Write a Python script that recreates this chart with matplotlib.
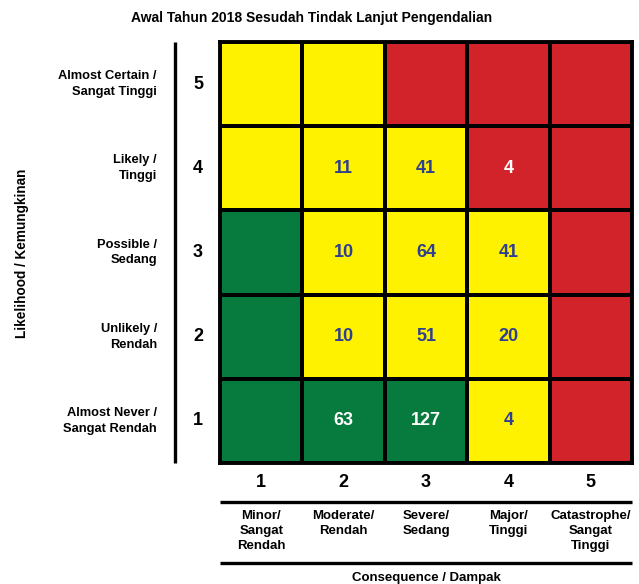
import numpy as np
import matplotlib
matplotlib.use("Agg")
import matplotlib.pyplot as plt
from matplotlib.colors import ListedColormap

plt.rcParams['font.family'] = ['Liberation Sans', 'DejaVu Sans']
plt.rcParams['font.weight'] = 'bold'

title = "Awal Tahun 2018 Sesudah Tindak Lanjut Pengendalian"
likelihood_levels = [1, 2, 3, 4, 5]
likelihood_labels = ["Almost Never /\nSangat Rendah", "Unlikely /\nRendah",
                     "Possible /\nSedang", "Likely /\nTinggi",
                     "Almost Certain /\nSangat Tinggi"]
consequence_levels = [1, 2, 3, 4, 5]
consequence_labels = ["Minor/\nSangat\nRendah", "Moderate/\nRendah",
                      "Severe/\nSedang", "Major/\nTinggi",
                      "Catastrophe/\nSangat\nTinggi"]
y_title = "Likelihood / Kemungkinan"
x_title = "Consequence / Dampak"

# risk zone per cell (0 = low/green, 1 = medium/yellow, 2 = high/red)
# rows: likelihood 1..5, columns: consequence 1..5
zones = np.array([
    [0, 0, 0, 1, 2],
    [0, 1, 1, 1, 2],
    [0, 1, 1, 1, 2],
    [1, 1, 1, 2, 2],
    [1, 1, 2, 2, 2],
])
# number of risks in each cell (0 = none)
counts = np.array([
    [0, 63, 127, 4, 0],
    [0, 10, 51, 20, 0],
    [0, 10, 64, 41, 0],
    [0, 11, 41, 4, 0],
    [0, 0, 0, 0, 0],
])

zone_colors = ["#077A3D", "#FFF200", "#D2232A"]
text_colors = {0: "white", 1: "#2E3F8F", 2: "white"}

fig = plt.figure(figsize=(6.39, 5.84), dpi=100)
ax = fig.add_axes([220 / 639, 121 / 584, 412 / 639, 421 / 584])

ax.pcolormesh(np.arange(6), np.arange(6), zones, cmap=ListedColormap(zone_colors),
              vmin=-0.5, vmax=2.5, edgecolors="black", linewidth=2.6)
ax.set_xlim(0, 5)
ax.set_ylim(0, 5)
ax.set_xticks([])
ax.set_yticks([])
for s in ax.spines.values():
    s.set_linewidth(2.8)
    s.set_color("black")

for i in range(5):
    for j in range(5):
        if counts[i, j]:
            ax.text(j + 0.5, i + 0.5, str(counts[i, j]), ha="center", va="center",
                    fontsize=13, fontweight="bold", color=text_colors[zones[i, j]])

# likelihood side
for i, (lvl, lab) in enumerate(zip(likelihood_levels, likelihood_labels)):
    ax.text(-0.267, i + 0.5, str(lvl), ha="center", va="center", fontsize=13,
            fontweight="bold", clip_on=False)
    ax.text(-0.765, i + 0.5, lab, ha="right", va="center", fontsize=9.3,
            fontweight="bold", linespacing=1.4, clip_on=False)
ax.plot([-0.546, -0.546], [0, 5], color="black", lw=2.4, clip_on=False,
        solid_capstyle="butt")
ax.text(-2.40, 2.49, y_title, rotation=90, ha="center", va="center",
        fontsize=9.8, fontweight="bold", clip_on=False)

# consequence side
for j, (lvl, lab) in enumerate(zip(consequence_levels, consequence_labels)):
    ax.text(j + 0.5, -0.2375, str(lvl), ha="center", va="center", fontsize=13,
            fontweight="bold", clip_on=False)
    ax.text(j + 0.5, -0.56, lab, ha="center", va="top", fontsize=9.5,
            fontweight="bold", linespacing=1.34, clip_on=False)
ax.plot([0, 5], [-0.463, -0.463], color="black", lw=2.4, clip_on=False,
        solid_capstyle="butt")
ax.plot([0, 5], [-1.188, -1.188], color="black", lw=2.4, clip_on=False,
        solid_capstyle="butt")
ax.text(2.5, -1.36, x_title, ha="center", va="center", fontsize=9.5,
        fontweight="bold", clip_on=False)

ax.text(1.11, 5.29, title, ha="center", va="center", fontsize=10,
        fontweight="bold", clip_on=False)

fig.savefig("out.png", dpi=100)
